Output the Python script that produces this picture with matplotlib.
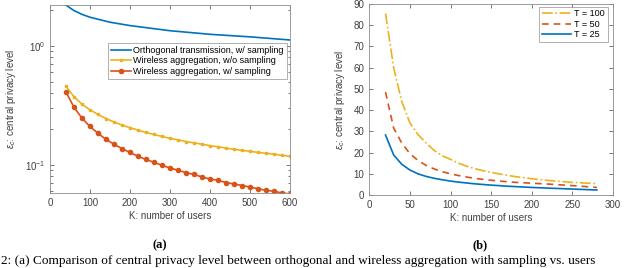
import numpy as np
import matplotlib
matplotlib.use("Agg")
import matplotlib.pyplot as plt
from matplotlib.ticker import LogLocator, NullFormatter

plt.rcParams["font.family"] = ["Liberation Sans", "DejaVu Sans"]
plt.rcParams["mathtext.fontset"] = "custom"
plt.rcParams["mathtext.rm"] = "Liberation Sans"
plt.rcParams["mathtext.it"] = "Liberation Sans:italic"

# ============================================================
# Data
# ============================================================

# (a) log-scale comparison
k_orth = [40, 60, 80, 100, 150, 200, 300, 400, 500, 600]
eps_orth = [2.2, 1.98, 1.84, 1.74, 1.58, 1.48, 1.34, 1.25, 1.19, 1.12]

k_air = list(range(40, 601, 20))
eps_air_nosamp = [0.458, 0.374, 0.324, 0.290, 0.265, 0.245, 0.229, 0.216,
                  0.205, 0.196, 0.187, 0.180, 0.173, 0.167, 0.162, 0.157,
                  0.153, 0.149, 0.145, 0.142, 0.138, 0.135, 0.132, 0.130,
                  0.127, 0.125, 0.123, 0.120, 0.118]
eps_air_samp = [0.410, 0.305, 0.247, 0.210, 0.184, 0.164, 0.149, 0.137,
                0.127, 0.118, 0.111, 0.105, 0.099, 0.094, 0.090, 0.086,
                0.083, 0.079, 0.076, 0.074, 0.071, 0.069, 0.067, 0.065,
                0.063, 0.061, 0.060, 0.058, 0.057]

# (b) effect of T
k_T = list(range(20, 281, 10))
eps_T100 = [85.5, 60.0, 44.0, 34.0, 28.5, 24.5, 21.0, 18.5, 16.8, 15.0,
            13.6, 12.4, 11.5, 10.7, 10.0, 9.3, 8.7, 8.2, 7.7, 7.3,
            6.9, 6.6, 6.3, 6.0, 5.8, 5.6, 5.4]
eps_T50 = [48.5, 31.5, 24.5, 19.5, 16.3, 14.0, 12.3, 11.0, 10.0, 9.2,
           8.5, 7.9, 7.4, 7.0, 6.6, 6.3, 6.0, 5.8, 5.6, 5.4,
           5.2, 4.95, 4.7, 4.45, 4.2, 3.9, 3.6]
eps_T25 = [28.3, 18.9, 14.5, 11.8, 10.0, 8.8, 7.9, 7.2, 6.6, 6.1,
           5.7, 5.3, 5.0, 4.7, 4.45, 4.2, 4.0, 3.8, 3.6, 3.45,
           3.3, 3.15, 3.0, 2.85, 2.7, 2.55, 2.4]

BLUE = "#0072BD"
RED = "#D95319"
YELLOW = "#EDB120"
GREY = "0.25"

fig = plt.figure(figsize=(6.4, 2.68), dpi=100)
ax1 = fig.add_axes([0.078, 0.280, 0.375, 0.701])
ax2 = fig.add_axes([0.577, 0.272, 0.381, 0.713])

for ax in (ax1, ax2):
    ax.tick_params(direction="in", top=True, right=True, labelsize=7,
                   colors=GREY, length=3, width=0.5)
    ax.tick_params(which="minor", direction="in", top=True, right=True,
                   length=1.8, width=0.5, colors=GREY)
    for s in ax.spines.values():
        s.set_color("0.55")
        s.set_linewidth(0.6)

# ---------------- (a) ----------------
ax1.plot(k_orth, eps_orth, color=BLUE, lw=1.2,
         label="Orthogonal transmission, w/ sampling")
ax1.plot(k_air, eps_air_nosamp, color=YELLOW, lw=1.2, marker="s", ms=2,
         label="Wireless aggregation, w/o sampling")
ax1.plot(k_air, eps_air_samp, color=RED, lw=1.2, marker="o", ms=3,
         mfc=RED, mec=RED, label="Wireless aggregation, w/ sampling")
ax1.set_yscale("log")
ax1.set_xlim(0, 600)
ax1.set_ylim(0.058, 2.2)
ax1.set_xticks(range(0, 601, 100))
ax1.yaxis.set_minor_locator(LogLocator(base=10, subs=np.arange(2, 10)))
ax1.yaxis.set_minor_formatter(NullFormatter())
ax1.set_xlabel("K: number of users", fontsize=7, color=GREY, labelpad=2)
ax1.set_ylabel(r"$\epsilon_c$: central privacy level", fontsize=7,
               color=GREY, labelpad=5)
leg1 = ax1.legend(loc="upper right", bbox_to_anchor=(0.986, 0.796),
                  fontsize=6.5, handlelength=2.2, handletextpad=0.3,
                  borderpad=0.3, labelspacing=0.15, fancybox=False,
                  borderaxespad=0)
leg1.get_frame().set_edgecolor("0.55")
leg1.get_frame().set_linewidth(0.6)

# ---------------- (b) ----------------
ax2.plot(k_T, eps_T100, color=YELLOW, lw=1.2, ls="-.", label="T = 100")
ax2.plot(k_T, eps_T50, color=RED, lw=1.2, ls=(0, (4, 3)), label="T = 50")
ax2.plot(k_T, eps_T25, color=BLUE, lw=1.2, label="T = 25")
ax2.set_xlim(0, 300)
ax2.set_ylim(0, 90)
ax2.set_xticks(range(0, 301, 50))
ax2.set_yticks(range(0, 91, 10))
ax2.set_xlabel("K: number of users", fontsize=7, color=GREY, labelpad=2)
ax2.set_ylabel(r"$\epsilon_c$: central privacy level", fontsize=7,
               color=GREY, labelpad=5)
leg2 = ax2.legend(loc="upper right", bbox_to_anchor=(0.978, 0.986),
                  fontsize=6.5, handlelength=3.2, handletextpad=0.4,
                  borderpad=0.3, labelspacing=0.15, fancybox=False,
                  borderaxespad=0)
leg2.get_frame().set_edgecolor("0.55")
leg2.get_frame().set_linewidth(0.6)

# sub-captions and the figure caption line
fig.text(160 / 640, 1 - 245 / 268, "(a)", ha="center", va="center",
         fontsize=9, fontweight="bold", family="Liberation Serif")
fig.text(480 / 640, 1 - 245 / 268, "(b)", ha="center", va="center",
         fontsize=9, fontweight="bold", family="Liberation Serif")
fig.text(0.002, 0.004,
         "2: (a) Comparison of central privacy level between orthogonal "
         "and wireless aggregation with sampling vs. users",
         ha="left", va="bottom", fontsize=9.5, family="Liberation Serif")

fig.savefig("out.png", dpi=100)
